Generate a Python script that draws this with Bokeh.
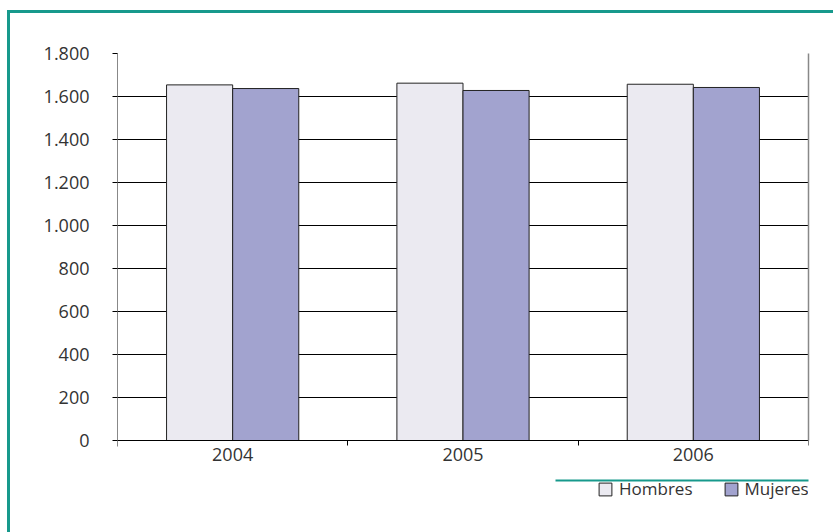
from bokeh.plotting import figure
from bokeh.models import (FixedTicker, Range1d, ColumnDataSource, Legend, LegendItem,
                          BoxAnnotation, LinearAxis)
from bokeh.transform import dodge
from bokeh.embed import file_html
from bokeh.resources import INLINE

# ---- data ----
years = ["2004", "2005", "2006"]
hombres = [1654, 1662, 1657]
mujeres = [1637, 1628, 1642]
series_names = ["Hombres", "Mujeres"]
y_ticks = [0, 200, 400, 600, 800, 1000, 1200, 1400, 1600, 1800]
y_tick_labels = ["0", "200", "400", "600", "800", "1.000", "1.200", "1.400", "1.600", "1.800"]

# ---- styles ----
FONT = "Open Sans"
FS_AX = "18px"
FS_LEG = "17px"
TXT = "#333333"
TEAL = "#17998c"
C_H = "#ebeaf1"
C_M = "#a2a3cf"

x_center = [i + 0.5 for i in range(len(years))]
x_bounds = [i for i in range(len(years) + 1)]

src = ColumnDataSource(dict(x=x_center, hombres=hombres, mujeres=mujeres))

# frame: 691 x 452 px; value 0 sits 65 px above the frame bottom
px_per_unit = 387 / 1800
y_start = -65 / px_per_unit

p = figure(frame_width=691, frame_height=452, output_backend="svg", toolbar_location=None,
           x_range=Range1d(0, len(years)), y_range=Range1d(y_start, 1800),
           min_border_left=107, min_border_right=25, min_border_top=40, min_border_bottom=27)
p.styles = {"margin-left": "7px", "margin-top": "10px",
            "border-left": f"3px solid {TEAL}", "border-top": f"3px solid {TEAL}"}
p.background_fill_color = "white"
p.border_fill_color = "white"
p.outline_line_color = None

bw = 0.287
r1 = p.vbar(x=dodge("x", -0.1435, range=p.x_range), top="hombres", width=bw, source=src,
            fill_color=C_H, line_color="#222222", line_width=1)
r2 = p.vbar(x=dodge("x", 0.1435, range=p.x_range), top="mujeres", width=bw, source=src,
            fill_color=C_M, line_color="#222222", line_width=1)

# y axis
ya = p.yaxis[0]
ya.ticker = FixedTicker(ticks=y_ticks)
ya.bounds = (-28, 1800)
ya.major_label_overrides = {t: l for t, l in zip(y_ticks, y_tick_labels)}
ya.axis_line_color = "#888888"
ya.major_tick_line_color = "black"
ya.major_tick_out = 5
ya.major_tick_in = 0
ya.minor_tick_line_color = None
ya.major_label_standoff = 23
ya.major_label_text_font = FONT
ya.major_label_text_font_size = FS_AX
ya.major_label_text_color = TXT

# right border as a bare axis
ra = LinearAxis(ticker=FixedTicker(ticks=[]), bounds=(0, 1800), axis_line_color="#888888",
                axis_line_width=1.5, major_tick_line_color=None, minor_tick_line_color=None,
                major_label_text_font_size="0px")
p.add_layout(ra, "right")

# x axis placed at value 0
xa = p.xaxis[0]
xa.fixed_location = 0
xa.ticker = FixedTicker(ticks=x_center, minor_ticks=x_bounds)
xa.major_label_overrides = {c: y for c, y in zip(x_center, years)}
xa.axis_line_color = "black"
xa.axis_line_width = 1.2
xa.major_tick_line_color = None
xa.major_tick_out = 0
xa.major_tick_in = 0
xa.minor_tick_line_color = "black"
xa.minor_tick_out = 5
xa.minor_tick_in = 0
xa.major_label_standoff = 2
xa.major_label_text_font = FONT
xa.major_label_text_font_size = FS_AX
xa.major_label_text_color = TXT

p.xgrid.visible = False
p.ygrid.grid_line_color = "black"
p.ygrid.grid_line_width = 1
p.ygrid.bounds = (0, 1800)

# legend (inside the frame, below the axis)
legend = Legend(items=[LegendItem(label=series_names[0], renderers=[r1]),
                       LegendItem(label=series_names[1], renderers=[r2])],
                orientation="horizontal", location=(480, 5),
                border_line_color=None, background_fill_alpha=0,
                padding=0, margin=0, spacing=30, glyph_width=16, glyph_height=16,
                label_height=16, label_standoff=6,
                label_text_font=FONT, label_text_font_size=FS_LEG, label_text_color=TXT)
p.add_layout(legend, "center")

# teal separator above the legend (canvas px)
p.add_layout(BoxAnnotation(left=542, right=798, top=463, bottom=465,
                           left_units="canvas", right_units="canvas",
                           top_units="canvas", bottom_units="canvas",
                           fill_color=TEAL, fill_alpha=1, line_color=None))

open("out.html", "w").write(file_html(p, INLINE))
